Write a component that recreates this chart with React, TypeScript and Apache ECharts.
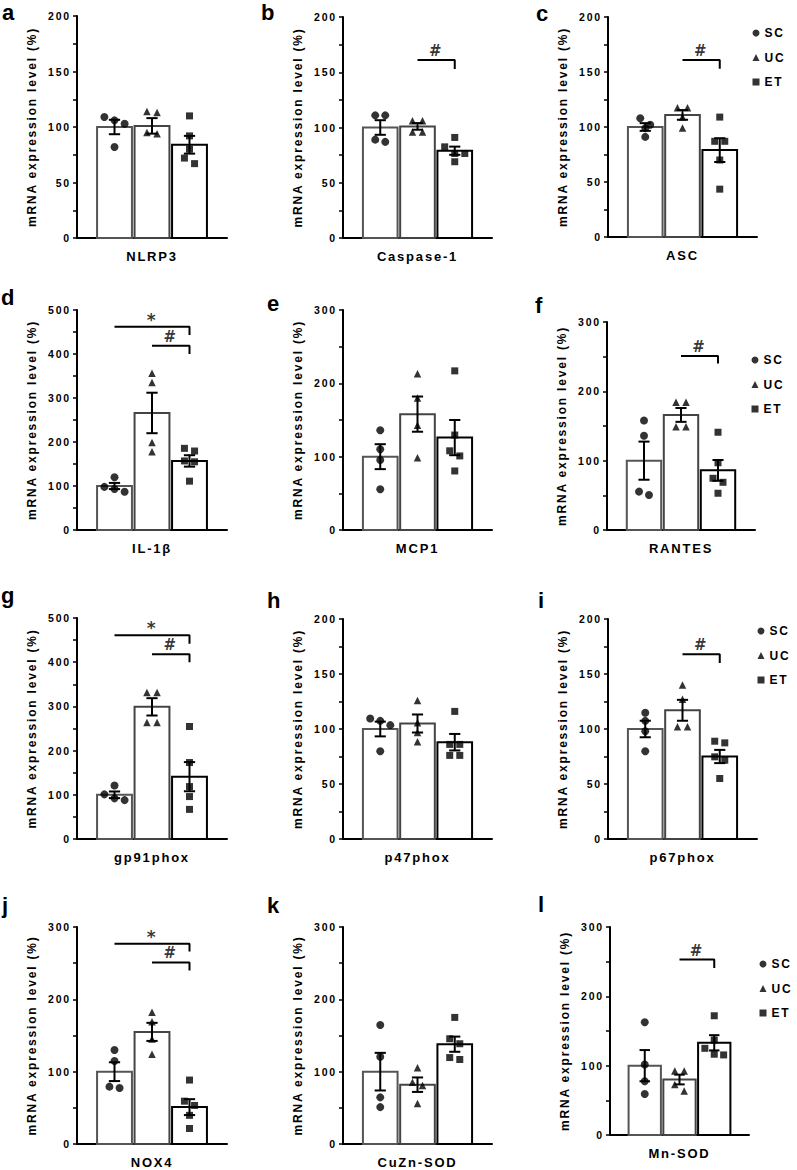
import React, { useEffect, useRef } from "react";
import * as echarts from "echarts";

// ---------- data ----------
const genes = ["NLRP3", "Caspase-1", "ASC", "IL-1β", "MCP1", "RANTES", "gp91phox", "p47phox", "p67phox", "NOX4", "CuZn-SOD", "Mn-SOD"];
const panelLetters = ["a", "b", "c", "d", "e", "f", "g", "h", "i", "j", "k", "l"];
const groups = ["SC", "UC", "ET"];
const yMax = [200, 200, 200, 500, 300, 300, 500, 200, 200, 300, 300, 300];
const yStep = [50, 50, 50, 100, 100, 100, 100, 50, 50, 100, 100, 100];

const means = [
  [100, 101, 84],
  [100, 101, 79],
  [100, 111, 79],
  [100, 266, 157],
  [100, 158, 126],
  [100, 166, 86],
  [100, 299, 141],
  [100, 105, 88],
  [100, 117, 75],
  [100, 155, 51],
  [100, 82, 138],
  [100, 80, 133],
];
const sems = [
  [6.5, 7, 8],
  [6.6, 3, 3.7],
  [3.5, 4.4, 10.8],
  [7, 46, 13],
  [17, 24, 24],
  [27.5, 10, 15],
  [7.5, 19.6, 33],
  [6.7, 8.2, 7.5],
  [7.5, 9.5, 6],
  [13, 12.5, 11],
  [26, 10, 10.5],
  [22.5, 7, 11],
];
const scPoints = [
  [109, 106, 103, 82],
  [111, 111, 89, 87],
  [108, 102, 99, 91],
  [120, 98, 93, 87],
  [136, 110, 95.5, 55.5],
  [158, 136, 55.4, 50.6],
  [121, 101, 92, 88],
  [109.6, 107.4, 103.5, 79.8],
  [114.7, 107.4, 98, 79.8],
  [130, 114.8, 79.3, 77.4],
  [164.5, 120.5, 64.5, 51],
  [162.7, 101.6, 77.5, 59.2],
];
const ucPoints = [
  [114, 113, 95, 94],
  [106, 106, 96, 96],
  [117.5, 117.5, 109, 99],
  [356, 335, 199, 178],
  [213, 180, 143, 98.6],
  [184.4, 184.4, 149, 149],
  [331.6, 331.6, 263.6, 263.6],
  [126, 105.6, 96.8, 88.3],
  [140, 127, 102, 102],
  [182, 169, 145, 124],
  [105.5, 85.5, 81, 56],
  [92.4, 92.4, 73, 63.6],
];
const etPoints = [
  [110, 92, 80, 72, 67],
  [91, 82.5, 76.5, 76.5, 69],
  [109, 87, 87, 70, 43.5],
  [185.6, 179.5, 157, 155, 111],
  [217, 129.5, 108, 101, 80.5],
  [141, 97, 74.6, 68.8, 53],
  [254.5, 173, 118.6, 96, 67],
  [116, 86, 86, 76, 76],
  [88.9, 87.4, 74.7, 71.6, 55],
  [88.4, 59.2, 53.3, 39.6, 21.4],
  [175, 145.5, 138.6, 119.5, 116.8],
  [172, 137, 125, 116.5, 115.5],
];
// significance brackets: [fromGroup, toGroup, lineLevel, dropLevel, mark]
const sigBrackets: [number, number, number, number, string][][] = [
  [],
  [[1, 2, 161, 153, "#"]],
  [[1, 2, 161, 153, "#"]],
  [[0, 2, 462, 443, "*"], [1, 2, 419, 400, "#"]],
  [],
  [[1, 2, 251, 240, "#"]],
  [[0, 2, 461, 442, "*"], [1, 2, 418, 400, "#"]],
  [],
  [[1, 2, 168, 160, "#"]],
  [[0, 2, 277, 266, "*"], [1, 2, 251, 240, "#"]],
  [],
  [[1, 2, 253, 241, "#"]],
];

// ---------- layout ----------
const FONT = "'Liberation Sans', Arial, Helvetica, sans-serif";
const MARK_FONT = "'DejaVu Sans', 'Liberation Sans', sans-serif";
const gridBoxes = [
  [77, 16, 150, 222],
  [343, 17, 149, 221],
  [608, 17, 149, 220],
  [77, 310, 150, 220],
  [343, 310, 149, 220],
  [607, 322, 148, 208],
  [77, 618, 150, 221],
  [343, 619, 149, 220],
  [608, 619, 149, 220],
  [77, 927, 150, 220],
  [343, 927, 149, 220],
  [610, 927, 139, 208],
];
const letterPos = [
  [2, 12], [261, 12], [536, 13],
  [1, 297], [267, 303], [535, 305],
  [1, 595], [267, 600], [538, 600],
  [2, 905], [267, 905], [538, 904],
];
const legendPanels = [2, 5, 8, 11];
const legendAnchors = [
  [756, 33],
  [755, 360],
  [761, 631],
  [763, 964],
];
const groupSymbols = ["circle", "triangle", "rect"];
const groupSymbolSizes = [8, 7.5, 7];
const barStroke = ["#555", "#444", "#000"];

function swarm(vals: number[], pxPerUnit: number, spread: number): number[] {
  const order = vals.map((_, i) => i).sort((a, b) => vals[b] - vals[a]);
  const offs = new Array(vals.length).fill(0);
  let row: number[] = [];
  const flush = () => {
    row.forEach((k, j) => {
      offs[k] = (j - (row.length - 1) / 2) * spread;
    });
    row = [];
  };
  for (const k of order) {
    if (row.length && (vals[row[0]] - vals[k]) * pxPerUnit > 7) flush();
    row.push(k);
  }
  flush();
  return offs;
}

function buildOption() {
  const grid: any[] = [];
  const xAxis: any[] = [];
  const yAxis: any[] = [];
  const series: any[] = [];
  const graphic: any[] = [];
  const legend: any[] = [];
  const HW = 0.465;
  const CAP = 0.15;

  for (let p = 0; p < 12; p++) {
    const [l, t, w, h] = gridBoxes[p];
    grid.push({ left: l, top: t, width: w, height: h, containLabel: false });
    xAxis.push({
      gridIndex: p,
      type: "value",
      min: -1,
      max: 3,
      axisLine: { show: true, onZero: false, lineStyle: { color: "#000", width: 2 } },
      axisTick: { show: false },
      axisLabel: { show: false },
      splitLine: { show: false },
      name: genes[p],
      nameLocation: "middle",
      nameGap: 12,
      nameTextStyle: { color: "#000", fontSize: 13, fontWeight: "bold", fontFamily: FONT },
    });
    yAxis.push({
      gridIndex: p,
      type: "value",
      min: 0,
      max: yMax[p],
      interval: yStep[p],
      axisLine: { show: true, onZero: false, lineStyle: { color: "#000", width: 2 } },
      axisTick: { show: true, length: 4, lineStyle: { color: "#000", width: 1.5 } },
      minorTick: { show: true, splitNumber: 2, length: 4, lineStyle: { color: "#000", width: 1.5 } },
      splitLine: { show: false },
      minorSplitLine: { show: false },
      axisLabel: { color: "#000", fontSize: 10.5, fontWeight: "bold", fontFamily: FONT, margin: 6 },
      name: "mRNA expression level (%)",
      nameLocation: "middle",
      nameRotate: 90,
      nameGap: 39,
      nameTextStyle: { color: "#000", fontSize: 12, fontWeight: "bold", fontFamily: FONT },
    });

    // bars
    series.push({
      type: "custom",
      xAxisIndex: p,
      yAxisIndex: p,
      z: 1,
      clip: false,
      silent: true,
      data: means[p].map((m, i) => [i, m]),
      renderItem: (params: any, api: any) => {
        const x = api.value(0);
        const m = api.value(1);
        const a = api.coord([x - HW, m]);
        const b = api.coord([x + HW, 0]);
        return {
          type: "rect",
          shape: { x: a[0], y: a[1], width: b[0] - a[0], height: b[1] - a[1] },
          style: { fill: "#fff", stroke: barStroke[params.dataIndex], lineWidth: 2 },
        };
      },
    });

    // points
    const pxPerUnit = h / yMax[p];
    const pts = [scPoints[p], ucPoints[p], etPoints[p]];
    pts.forEach((vals, g) => {
      const offs = swarm(vals, pxPerUnit, 0.27);
      series.push({
        type: "scatter",
        name: groups[g],
        xAxisIndex: p,
        yAxisIndex: p,
        z: 2,
        silent: true,
        symbol: groupSymbols[g],
        symbolSize: groupSymbolSizes[g],
        itemStyle: { color: "#000" },
        data: vals.map((v, i) => [g + offs[i], v]),
      });
    });

    // error bars
    series.push({
      type: "custom",
      xAxisIndex: p,
      yAxisIndex: p,
      z: 3,
      clip: false,
      silent: true,
      data: means[p].map((m, i) => [i, m, sems[p][i]]),
      renderItem: (params: any, api: any) => {
        const x = api.value(0);
        const m = api.value(1);
        const s = api.value(2);
        const top = api.coord([x, m + s]);
        const bot = api.coord([x, m - s]);
        const tl = api.coord([x - CAP, m + s]);
        const tr = api.coord([x + CAP, m + s]);
        const bl = api.coord([x - CAP, m - s]);
        const br = api.coord([x + CAP, m - s]);
        const st = { stroke: "#000", lineWidth: 2 };
        return {
          type: "group",
          children: [
            { type: "line", shape: { x1: top[0], y1: top[1], x2: bot[0], y2: bot[1] }, style: st },
            { type: "line", shape: { x1: tl[0], y1: tl[1], x2: tr[0], y2: tr[1] }, style: st },
            { type: "line", shape: { x1: bl[0], y1: bl[1], x2: br[0], y2: br[1] }, style: st },
          ],
        };
      },
    });

    // significance
    sigBrackets[p].forEach(([from, to, lvl, drop, mark]) => {
      series.push({
        type: "line",
        xAxisIndex: p,
        yAxisIndex: p,
        z: 4,
        silent: true,
        symbol: "none",
        lineStyle: { color: "#000", width: 2 },
        data: [[from, lvl], [to, lvl], [to, drop]],
      });
      series.push({
        type: "scatter",
        xAxisIndex: p,
        yAxisIndex: p,
        z: 4,
        silent: true,
        symbolSize: 1,
        itemStyle: { color: "rgba(0,0,0,0)" },
        label: {
          show: true,
          position: "top",
          distance: mark === "*" ? -2 : 1,
          formatter: mark,
          color: "#000",
          fontSize: mark === "*" ? 17 : 15,
          fontWeight: "bold",
          fontFamily: MARK_FONT,
        },
        data: [[(from + to) / 2, lvl]],
      });
    });

    // panel letter
    graphic.push({
      type: "text",
      x: letterPos[p][0],
      y: letterPos[p][1],
      style: {
        text: panelLetters[p],
        fill: "#000",
        fontSize: 22,
        fontWeight: "bold",
        fontFamily: FONT,
        verticalAlign: "middle",
        align: "left",
      },
    });
  }

  legendPanels.forEach((p, k) => {
    const [cx, cy] = legendAnchors[k];
    legend.push({
      orient: "vertical",
      left: cx - 3.5,
      top: cy - 6,
      padding: 0,
      itemWidth: 7,
      itemHeight: 7,
      itemGap: 12.5,
      selectedMode: false,
      textStyle: { color: "#000", fontSize: 12, fontWeight: "bold", fontFamily: FONT, lineHeight: 12 },
      data: groups.map((g, i) => ({ name: g, icon: groupSymbols[i], itemStyle: { color: "#000" } })),
    });
  });

  return {
    animation: false,
    backgroundColor: "#fff",
    textStyle: { fontFamily: FONT },
    grid,
    xAxis,
    yAxis,
    legend,
    graphic,
    series,
  };
}

export default function App() {
  const ref = useRef<HTMLDivElement>(null);
  useEffect(() => {
    if (!ref.current) return;
    const chart = echarts.init(ref.current, null, { renderer: "svg" });
    chart.setOption(buildOption() as any);
    return () => chart.dispose();
  }, []);
  return (
    <div
      ref={ref}
      style={{
        position: "absolute",
        left: 0,
        top: 0,
        width: 797,
        height: 1170,
        background: "#fff",
        letterSpacing: "1.8px",
      }}
    />
  );
}
